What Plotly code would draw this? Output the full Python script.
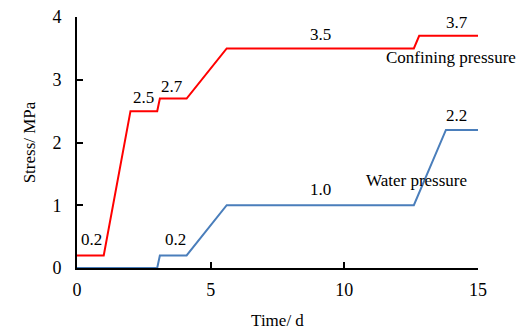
import plotly.graph_objects as go

conf_t = [0, 1.0, 2.0, 3.0, 3.1, 4.1, 5.6, 12.6, 12.8, 15]
conf_p = [0.2, 0.2, 2.5, 2.5, 2.7, 2.7, 3.5, 3.5, 3.7, 3.7]
water_t = [0, 3.0, 3.1, 4.1, 5.6, 12.6, 13.8, 15]
water_p = [0, 0, 0.2, 0.2, 1.0, 1.0, 2.2, 2.2]

labels = [
    ("0.2", 0.55, 0.45), ("2.5", 2.5, 2.72), ("2.7", 3.55, 2.9), ("3.5", 9.1, 3.72),
    ("3.7", 14.2, 3.92), ("0.2", 3.7, 0.45), ("1.0", 9.1, 1.25), ("2.2", 14.2, 2.43),
    ("Confining pressure", 14.0, 3.35), ("Water pressure", 12.7, 1.4),
]

font = "Liberation Serif"
fig = go.Figure()
fig.add_trace(go.Scatter(x=conf_t, y=conf_p, mode="lines", line=dict(color="#FF0000", width=2), cliponaxis=False))
fig.add_trace(go.Scatter(x=water_t, y=water_p, mode="lines", line=dict(color="#4A7EBB", width=2), cliponaxis=False))
for txt, x, y in labels:
    fig.add_annotation(x=x, y=y, text=txt, showarrow=False, font=dict(family=font, size=17, color="black"))

axis_common = dict(showgrid=False, zeroline=False, showline=True, linecolor="black", linewidth=2,
                   ticks="inside", ticklen=6, tickwidth=2, tickcolor="black", automargin=False,
                   ticklabeloverflow="allow",
                   tickfont=dict(family=font, size=18, color="black"))
fig.update_xaxes(range=[0, 15], tickvals=[0, 5, 10, 15], ticklabelstandoff=4,
                 title=dict(text="Time/ d", font=dict(family=font, size=17, color="black"), standoff=16), **axis_common)
fig.update_yaxes(range=[0, 4], tickvals=[0, 1, 2, 3, 4], ticklabelstandoff=10,
                 title=dict(text="Stress/ MPa", font=dict(family=font, size=17, color="black"), standoff=12), **axis_common)
fig.update_layout(width=532, height=330, margin=dict(l=69, r=62, t=9, b=70), showlegend=False,
                  plot_bgcolor="white", paper_bgcolor="white")
fig.write_html("out.html")
